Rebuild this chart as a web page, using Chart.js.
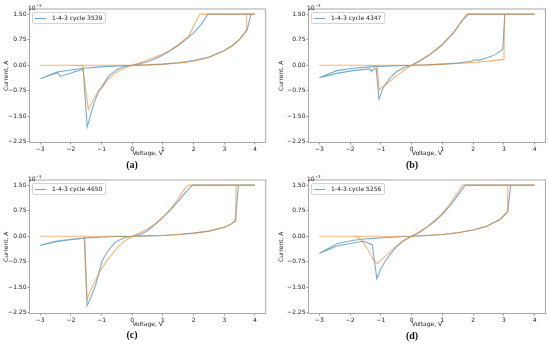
<!DOCTYPE html>
<html lang="en">
<head>
<meta charset="UTF-8">
<title>1-4-3 I-V cycles</title>
<script src="https://cdn.jsdelivr.net/npm/chart.js@4.4.0/dist/chart.umd.min.js"></script>
<style>
    body {
        margin: 0;
        width: 550px;
        height: 346px;
        background: #ffffff;
        position: relative;
        overflow: hidden;
        font-family: 'DejaVu Sans', sans-serif;
    }
    .panel {
        position: absolute;
        width: 275px;
        height: 173px;
    }
    .panel canvas {
        position: absolute;
        left: 0;
        top: 0;
    }
    .legend {
        position: absolute;
        height: 10px;
        width: 72px;
        border: 1px solid #d4d4d4;
        border-radius: 2px;
        background: rgba(255, 255, 255, 0.85);
        font-size: 6px;
        line-height: 10px;
        color: #222;
        white-space: nowrap;
    }
    .legend .swatch {
        position: absolute;
        left: 2.5px;
        top: 5px;
        width: 11px;
        height: 1px;
        background: rgba(31, 119, 180, 0.65);
    }
    .legend .label {
        position: absolute;
        left: 19.5px;
        top: 0;
    }
    .offset {
        position: absolute;
        font-size: 6px;
        line-height: 6px;
        color: #222;
    }
    .offset sup {
        font-size: 4px;
        vertical-align: 2.5px;
    }
    .caption {
        position: absolute;
        font-family: 'Liberation Serif', serif;
        font-weight: bold;
        font-size: 10px;
        line-height: 10px;
        transform: translate(-50%, -50%);
        color: #111;
    }
</style>
</head>
<body>
    <div class="panel" id="panelA" style="left:0px; top:0px;"><canvas id="chartA" width="275" height="173"></canvas></div>
    <div class="panel" id="panelB" style="left:275px; top:0px;"><canvas id="chartB" width="275" height="173"></canvas></div>
    <div class="panel" id="panelC" style="left:0px; top:171px;"><canvas id="chartC" width="275" height="173"></canvas></div>
    <div class="panel" id="panelD" style="left:275px; top:171px;"><canvas id="chartD" width="275" height="173"></canvas></div>

<script>
// tick labels
const xTicks = [-3, -2, -1, 0, 1, 2, 3, 4];
const yTicks = [-2.25, -1.5, -0.75, 0, 0.75, 1.5];
const cycleLabels = ['1-4-3 cycle 3539', '1-4-3 cycle 4347', '1-4-3 cycle 4650', '1-4-3 cycle 5256'];
const captions = ['(a)', '(b)', '(c)', '(d)'];

// (a) voltage in V, current in 10^-3 A
const voltBlueA = [0, 0.5, 1, 1.5, 2, 2.5, 3, 3.3, 3.5, 3.75, 3.87, 4,
    2.47, 2.25, 2, 1.75, 1.5, 1.25, 1, 0.75, 0.5, 0.25, 0,
    -0.2, -0.35, -0.56, -0.78, -0.99, -1.1, -1.26, -1.47, -1.6, -1.9, -2.1, -2.35, -2.42, -2.7, -3,
    -2.7, -2.45, -2, -1.6, -1, -0.5, 0];
const currBlueA = [0, 0.01, 0.03, 0.07, 0.14, 0.24, 0.43, 0.6, 0.76, 1.05, 1.5, 1.5,
    1.5, 1.2, 0.95, 0.76, 0.58, 0.43, 0.3, 0.19, 0.1, 0.04, 0,
    -0.03, -0.07, -0.16, -0.33, -0.63, -0.76, -1.15, -1.82, -0.12, -0.2, -0.26, -0.33, -0.22, -0.3, -0.4,
    -0.29, -0.2, -0.14, -0.09, -0.05, -0.02, 0];
const voltOrangeA = [0, 0.5, 1, 1.5, 2, 2.5, 3, 3.3, 3.5, 3.73, 3.73, 4,
    2.2, 1.85, 1.5, 1.25, 1, 0.75, 0.5, 0.25, 0,
    -0.25, -0.56, -0.8, -0.99, -1.21, -1.43, -1.62, -2, -3, 0];
const currOrangeA = [0, 0.01, 0.03, 0.06, 0.12, 0.22, 0.42, 0.6, 0.76, 1.02, 1.5, 1.5,
    1.5, 0.87, 0.6, 0.45, 0.33, 0.24, 0.15, 0.07, 0,
    -0.09, -0.23, -0.43, -0.67, -0.91, -1.3, -0.02, 0, 0, 0];

// (b)
const voltBlueB = [0, 0.5, 1, 1.5, 1.9, 2.06, 2.2, 2.44, 2.71, 2.96, 3.03, 4,
    1.85, 1.63, 1.36, 1, 0.6, 0.28, 0,
    -0.25, -0.5, -0.7, -0.92, -1, -1.06, -1.15, -1.25, -1.3, -1.36, -1.9, -2.43, -3,
    -2.43, -1.89, -1.35, -0.7, 0];
const currBlueB = [0, 0.01, 0.03, 0.06, 0.11, 0.16, 0.15, 0.21, 0.31, 0.46, 1.5, 1.5,
    1.5, 1.29, 0.95, 0.6, 0.31, 0.13, 0,
    -0.07, -0.2, -0.37, -0.66, -0.85, -1.0, -0.1, -0.12, -0.19, -0.11, -0.16, -0.24, -0.37,
    -0.16, -0.09, -0.05, -0.02, 0];
const voltOrangeB = [0, 0.5, 1, 1.5, 2, 2.5, 3, 3.02, 4,
    1.79, 1.63, 1.36, 1, 0.6, 0.28, 0,
    -0.25, -0.5, -0.75, -0.95, -1.05, -1.12, -1.5, -3, 0];
const currOrangeB = [0, 0.01, 0.03, 0.05, 0.08, 0.12, 0.17, 1.5, 1.5,
    1.5, 1.3, 0.96, 0.62, 0.33, 0.14, 0,
    -0.15, -0.32, -0.5, -0.64, -0.72, -0.02, 0, 0, 0];

// (c)
const voltBlueC = [0, 0.5, 1, 1.5, 2, 2.5, 3, 3.2, 3.36, 3.46, 4,
    1.97, 1.75, 1.5, 1.25, 1, 0.75, 0.5, 0.25, 0,
    -0.2, -0.35, -0.56, -0.78, -0.97, -1.01, -1.2, -1.35, -1.47, -1.55, -2.08, -2.52, -3,
    -2.5, -2, -1.5, -1, -0.5, 0];
const currBlueC = [0, 0.01, 0.02, 0.05, 0.09, 0.15, 0.26, 0.34, 0.46, 1.5, 1.5,
    1.5, 1.3, 1.03, 0.77, 0.55, 0.35, 0.16, 0.05, 0,
    -0.03, -0.08, -0.18, -0.42, -0.7, -0.82, -1.45, -1.8, -2.04, -0.06, -0.11, -0.17, -0.27,
    -0.15, -0.09, -0.05, -0.03, -0.01, 0];
const voltOrangeC = [0, 0.5, 1, 1.5, 2, 2.5, 3, 3.2, 3.37, 3.38, 4,
    1.83, 1.7, 1.5, 1.25, 1, 0.75, 0.5, 0.25, 0,
    -0.25, -0.5, -0.75, -1, -1.25, -1.48, -1.57, -3, 0];
const currOrangeC = [0, 0.01, 0.02, 0.05, 0.09, 0.15, 0.26, 0.34, 0.45, 1.5, 1.5,
    1.5, 1.38, 1.1, 0.8, 0.56, 0.37, 0.22, 0.1, 0,
    -0.14, -0.35, -0.63, -0.95, -1.38, -1.86, 0, 0, 0];

// (d)
const voltBlueD = [0, 0.5, 1, 1.5, 2, 2.44, 2.87, 3.12, 3.22, 4,
    1.74, 1.5, 1.25, 1, 0.75, 0.5, 0.25, 0,
    -0.27, -0.49, -0.7, -0.85, -1, -1.13, -1.28, -1.42, -1.55, -1.9, -2.43, -3,
    -2.43, -1.89, -1.35, -0.8, 0];
const currBlueD = [0, 0.02, 0.05, 0.1, 0.18, 0.29, 0.49, 0.72, 1.5, 1.5,
    1.5, 1.2, 0.9, 0.64, 0.44, 0.26, 0.11, 0,
    -0.14, -0.31, -0.54, -0.73, -0.95, -1.25, -0.25, -0.2, -0.15, -0.2, -0.29, -0.51,
    -0.22, -0.12, -0.07, -0.04, 0];
const voltOrangeD = [0, 0.5, 1, 1.5, 2, 2.44, 2.87, 3.12, 3.12, 4,
    1.66, 1.5, 1.25, 1, 0.75, 0.5, 0.25, 0,
    -0.25, -0.5, -0.75, -1, -1.12, -1.25, -1.4, -1.6, -1.75, -1.85, -3, 0];
const currOrangeD = [0, 0.02, 0.05, 0.1, 0.18, 0.29, 0.49, 0.72, 1.5, 1.5,
    1.5, 1.28, 0.96, 0.68, 0.46, 0.28, 0.13, 0,
    -0.12, -0.29, -0.5, -0.71, -0.81, -0.68, -0.42, -0.14, -0.03, 0, 0, 0];

const BLUE = 'rgba(31, 119, 180, 0.62)';
const ORANGE = 'rgba(255, 127, 14, 0.6)';
const FONT = { family: "'DejaVu Sans', sans-serif", size: 6 };

// box around the plot area, like matplotlib spines
const framePlugin = {
    id: 'frame',
    afterDraw(chart) {
        const { ctx, chartArea: a } = chart;
        ctx.save();
        ctx.strokeStyle = '#a8a8a8';
        ctx.lineWidth = 1;
        ctx.strokeRect(a.left, a.top, a.right - a.left, a.bottom - a.top);
        ctx.restore();
    }
};

function toPoints(volts, currents) {
    return volts.map((v, i) => ({ x: v, y: currents[i] }));
}

function fmt(v) {
    return v.toFixed(2).replace('-', '\u2212');
}

function makePanel(canvasId, blueV, blueI, orangeV, orangeI, yWidth, padRight) {
    const ctx = document.getElementById(canvasId).getContext('2d');
    return new Chart(ctx, {
        type: 'scatter',
        data: {
            datasets: [
                {
                    data: toPoints(blueV, blueI),
                    showLine: true,
                    borderColor: BLUE,
                    borderWidth: 1.1,
                    pointRadius: 0,
                    order: 1
                },
                {
                    data: toPoints(orangeV, orangeI),
                    showLine: true,
                    borderColor: ORANGE,
                    borderWidth: 1.1,
                    pointRadius: 0,
                    order: 0
                }
            ]
        },
        options: {
            responsive: false,
            animation: false,
            devicePixelRatio: 1,
            layout: { padding: { left: 0, right: padRight, top: 9, bottom: 14 } },
            plugins: { legend: { display: false }, tooltip: { enabled: false } },
            scales: {
                x: {
                    type: 'linear',
                    min: -3.35,
                    max: 4.35,
                    afterBuildTicks: (scale) => { scale.ticks = xTicks.map(v => ({ value: v })); },
                    afterFit: (scale) => { scale.height = 16.5; },
                    grid: { drawOnChartArea: false, drawTicks: true, tickLength: 2, color: '#999' },
                    border: { display: false },
                    ticks: {
                        font: FONT,
                        color: '#222',
                        padding: 1,
                        maxRotation: 0,
                        autoSkip: false,
                        callback: (v) => String(v).replace('-', '\u2212')
                    },
                    title: {
                        display: true,
                        text: 'Voltage, V',
                        font: FONT,
                        color: '#222',
                        padding: { top: 0, bottom: 1.5 }
                    }
                },
                y: {
                    min: -2.27,
                    max: 1.65,
                    afterBuildTicks: (scale) => { scale.ticks = yTicks.map(v => ({ value: v })); },
                    afterFit: (scale) => { scale.width = yWidth; },
                    grid: { drawOnChartArea: false, drawTicks: true, tickLength: 2, color: '#999' },
                    border: { display: false },
                    ticks: {
                        font: FONT,
                        color: '#222',
                        padding: 1,
                        autoSkip: false,
                        callback: (v) => fmt(v)
                    },
                    title: {
                        display: true,
                        text: 'Current, A',
                        font: FONT,
                        color: '#222',
                        padding: { top: 3, bottom: 0 }
                    }
                }
            }
        },
        plugins: [framePlugin]
    });
}

const panels = [
    { canvas: 'chartA', panel: 'panelA', bv: voltBlueA, bi: currBlueA, ov: voltOrangeA, oi: currOrangeA, yWidth: 29.5, padRight: 9.3, capX: 132, capY: 165 },
    { canvas: 'chartB', panel: 'panelB', bv: voltBlueB, bi: currBlueB, ov: voltOrangeB, oi: currOrangeB, yWidth: 33.5, padRight: 4.5, capX: 137, capY: 164.5 },
    { canvas: 'chartC', panel: 'panelC', bv: voltBlueC, bi: currBlueC, ov: voltOrangeC, oi: currOrangeC, yWidth: 29.5, padRight: 9.3, capX: 132, capY: 164 },
    { canvas: 'chartD', panel: 'panelD', bv: voltBlueD, bi: currBlueD, ov: voltOrangeD, oi: currOrangeD, yWidth: 33.5, padRight: 4.5, capX: 137, capY: 164.5 }
];

panels.forEach((p, i) => {
    makePanel(p.canvas, p.bv, p.bi, p.ov, p.oi, p.yWidth, p.padRight);
    const host = document.getElementById(p.panel);

    const legend = document.createElement('div');
    legend.className = 'legend';
    legend.style.left = (p.yWidth + 2) + 'px';
    legend.style.top = '12px';
    legend.innerHTML = '<span class="swatch"></span><span class="label">' + cycleLabels[i] + '</span>';
    host.appendChild(legend);

    const offset = document.createElement('div');
    offset.className = 'offset';
    offset.style.left = (p.yWidth - 1.5) + 'px';
    offset.style.top = '2.5px';
    offset.innerHTML = '10<sup>\u22123</sup>';
    host.appendChild(offset);

    const cap = document.createElement('div');
    cap.className = 'caption';
    cap.style.left = p.capX + 'px';
    cap.style.top = p.capY + 'px';
    cap.textContent = captions[i];
    host.appendChild(cap);
});
</script>
</body>
</html>
